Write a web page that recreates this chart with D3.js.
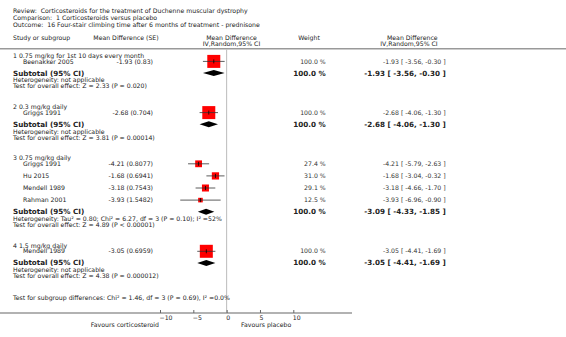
<!DOCTYPE html>
<html>
<head>
<meta charset="utf-8">
<script src="https://cdn.jsdelivr.net/npm/d3@7"></script>
<style>
  body { margin: 0; background: #fff; }
  svg { display: block; font-family: "DejaVu Sans", Verdana, sans-serif; }
  svg text { white-space: pre; }
</style>
</head>
<body>
<div class="chart"></div>
<script>
// Chart data
const titleLines = [
  "Review:  Corticosteroids for the treatment of Duchenne muscular dystrophy",
  "Comparison:  1 Corticosteroids versus placebo",
  "Outcome:  16 Four-stair climbing time after 6 months of treatment - prednisone"
];
const groupNames = [
  "1 0.75 mg/kg for 1st 10 days every month",
  "2 0.3 mg/kg daily",
  "3 0.75 mg/kg daily",
  "4 1.5 mg/kg daily"
];
const studyNames = ["Beenakker 2005", "Griggs 1991", "Griggs 1991", "Hu 2015", "Mendell 1989", "Rahman 2001", "Mendell 1989"];
const studyGroup = [0, 1, 2, 2, 2, 2, 3];
const studyMD = [-1.93, -2.68, -4.21, -1.68, -3.18, -3.93, -3.05];
const studySE = ["0.83", "0.704", "0.8077", "0.6941", "0.7543", "1.5482", "0.6959"];
const studyLow = [-3.56, -4.06, -5.79, -3.04, -4.66, -6.96, -4.41];
const studyHigh = [-0.30, -1.30, -2.63, -0.32, -1.70, -0.90, -1.69];
const studyWeight = [100.0, 100.0, 27.4, 31.0, 29.1, 12.5, 100.0];
const subMD = [-1.93, -2.68, -3.09, -3.05];
const subLow = [-3.56, -4.06, -4.33, -4.41];
const subHigh = [-0.30, -1.30, -1.85, -1.69];
const subWeight = [100.0, 100.0, 100.0, 100.0];
const heterogeneity = [
  "Heterogeneity: not applicable",
  "Heterogeneity: not applicable",
  "Heterogeneity: Tau² = 0.80; Chi² = 6.27, df = 3 (P = 0.10); I² =52%",
  "Heterogeneity: not applicable"
];
const overallEffect = [
  "Test for overall effect: Z = 2.33 (P = 0.020)",
  "Test for overall effect: Z = 3.81 (P = 0.00014)",
  "Test for overall effect: Z = 4.89 (P < 0.00001)",
  "Test for overall effect: Z = 4.38 (P = 0.000012)"
];
const subgroupTest = "Test for subgroup differences: Chi² = 1.46, df = 3 (P = 0.69), I² =0.0%";
const axisTicks = [-10, -5, 0, 5, 10];
const favourLeft = "Favours corticosteroid";
const favourRight = "Favours placebo";

const W = 566, H = 337;
const ink = "#222";
const fs = 6.2;
const fmt = d => d.toFixed(2);
const ciText = (m, l, h) => `${fmt(m)} [ ${fmt(l)}, ${fmt(h)} ]`;

const svg = d3.select(".chart").append("svg")
  .attr("width", W).attr("height", H);

// x scale for the forest plot
const x = d3.scaleLinear().domain([-10, 10]).range([160, 293.3]);
const sqSize = d3.scaleSqrt().domain([0, 100]).range([0, 13]);

// Column positions
const colStudy = 13, colIndent = 23, colSE = 153, colWeight = 325.7, colCI = 445.7;

function txt(xp, yp, s, opts = {}) {
  return svg.append("text")
    .attr("x", xp).attr("y", yp)
    .attr("dy", "0.35em")
    .attr("font-size", opts.size || fs)
    .attr("font-weight", opts.bold ? "bold" : null)
    .attr("text-anchor", opts.anchor || "start")
    .attr("fill", opts.color || ink)
    .text(s);
}

// Title block
titleLines.forEach((t, i) => txt(colStudy, 10.7 + i * 7, t));

// Column headers
txt(colStudy, 37.7, "Study or subgroup");
txt(93.3, 37.7, "Mean Difference (SE)");
txt(231.5, 37.7, "Mean Difference", { anchor: "middle" });
txt(231.5, 44, "IV,Random,95% CI", { anchor: "middle" });
txt(298.3, 37.7, "Weight");
txt(437.7, 37.7, "Mean Difference", { anchor: "end" });
txt(437.7, 44, "IV,Random,95% CI", { anchor: "end" });

// Header rule
svg.append("line")
  .attr("x1", 0).attr("x2", W).attr("y1", 48.7).attr("y2", 48.7)
  .attr("stroke", "#999").attr("stroke-width", 1.5);

// Axis and zero line
const axisY = 313;
svg.append("line")
  .attr("x1", x(0)).attr("x2", x(0)).attr("y1", 49.5).attr("y2", axisY)
  .attr("stroke", "#bbb").attr("stroke-width", 1);

svg.append("line")
  .attr("x1", 0).attr("x2", 352).attr("y1", axisY).attr("y2", axisY)
  .attr("stroke", "#999").attr("stroke-width", 1.5);

const axis = svg.append("g")
  .attr("transform", `translate(0,${axisY})`)
  .call(d3.axisBottom(x).tickValues(axisTicks).tickSizeInner(-3).tickSizeOuter(0).tickPadding(3));
axis.select(".domain").remove();
axis.selectAll(".tick line").attr("stroke", "#666");
axis.selectAll(".tick text")
  .attr("font-family", "DejaVu Sans, Verdana, sans-serif")
  .attr("font-size", fs).attr("fill", ink)
  .attr("text-anchor", "start").attr("dx", -1);

txt(159, 325, favourLeft, { anchor: "end" });
txt(241, 325, favourRight);

// Rows: lay out groups top to bottom
let y = 55.8;
groupNames.forEach((g, gi) => {
  txt(colStudy, y, g);
  let sy = y + 5.6;
  const idx = studyGroup.map((v, i) => v === gi ? i : -1).filter(i => i >= 0);
  idx.forEach((i, k) => {
    const ry = sy + k * 12.1;
    txt(colIndent, ry, studyNames[i]);
    txt(colSE, ry, `${fmt(studyMD[i])} (${studySE[i]})`, { anchor: "end" });
    txt(colWeight, ry, `${studyWeight[i].toFixed(1)} %`, { anchor: "end", color: "#333" });
    txt(colCI, ry, ciText(studyMD[i], studyLow[i], studyHigh[i]), { anchor: "end", color: "#333" });

    // weighted square with the confidence interval drawn through it
    const s = sqSize(studyWeight[i]);
    svg.append("rect")
      .attr("x", x(studyMD[i]) - s / 2).attr("y", ry - s / 2)
      .attr("width", s).attr("height", s)
      .attr("fill", "#ff0000");
    svg.append("line")
      .attr("x1", x(studyLow[i])).attr("x2", x(studyHigh[i]))
      .attr("y1", ry).attr("y2", ry)
      .attr("stroke", "#333").attr("stroke-width", 0.8);
    svg.append("line")
      .attr("x1", x(studyMD[i])).attr("x2", x(studyMD[i]))
      .attr("y1", ry - 2).attr("y2", ry + 2)
      .attr("stroke", "#000").attr("stroke-width", 0.8);
  });

  const subY = sy + (idx.length - 1) * 12.1 + 11.6;
  txt(colStudy, subY, "Subtotal (95% CI)", { bold: true, size: 7.2 });
  txt(colWeight, subY, `${subWeight[gi].toFixed(1)} %`, { anchor: "end", bold: true, size: 7.2 });
  txt(colCI, subY, ciText(subMD[gi], subLow[gi], subHigh[gi]), { anchor: "end", bold: true, size: 7.2 });

  svg.append("path")
    .attr("d", d3.line()([
      [x(subLow[gi]), subY],
      [x(subMD[gi]), subY - 3],
      [x(subHigh[gi]), subY],
      [x(subMD[gi]), subY + 3]
    ]) + "Z")
    .attr("fill", "#000");

  txt(colStudy, subY + 7.3, heterogeneity[gi]);
  txt(colStudy, subY + 13.3, overallEffect[gi]);
  y = subY + 34;
});

txt(colStudy, 298, subgroupTest);
</script>
</body>
</html>
